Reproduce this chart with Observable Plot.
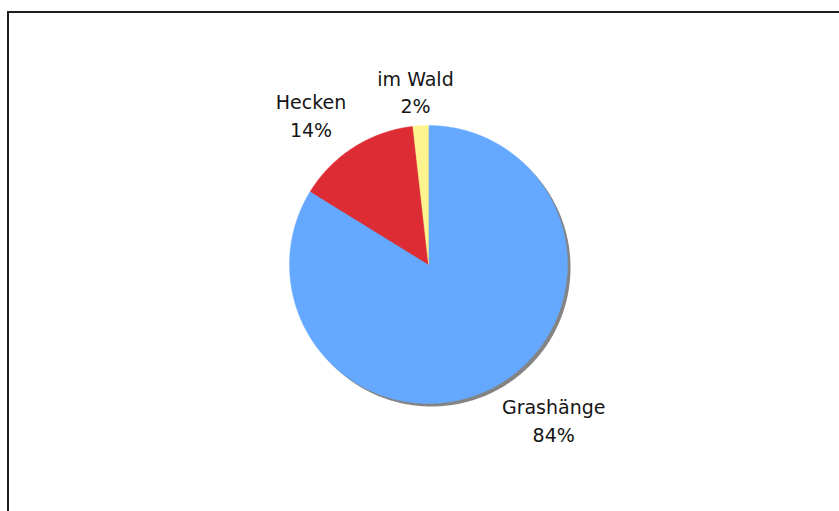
<!DOCTYPE html>
<html><head><meta charset="utf-8">
<script src="https://cdn.jsdelivr.net/npm/d3@7"></script>
<script src="https://cdn.jsdelivr.net/npm/@observablehq/plot@0.6"></script>
<style>
html,body{margin:0;padding:0;background:#fff;overflow:hidden;width:839px;height:511px}
#frame{position:absolute;left:7px;top:11px;width:900px;height:600px;border:2px solid #1e1e1e;box-sizing:border-box}
#chart{position:absolute;left:0;top:0}
</style></head><body>
<div id="frame"></div><div id="chart"></div>
<script>
// Data
const categories = ["Grashänge", "Hecken", "im Wald"];
const values = [83.8, 14.4, 1.8];
const colors = ["#64A9FF", "#DE2C34", "#FFF38E"];

// Layout
const W = 839, H = 511;
const mL = 289, mR = 272, mT = 125, mB = 108;
const rPx = (W - mL - mR) / 2;
const fontSize = 19, lineH = 1.45;
const fontFamily = "'DejaVu Sans', Verdana, sans-serif";

const slices = categories.map((name, i) => ({name, value: values[i], color: colors[i]}));
const total = d3.sum(values);
const arcs = d3.pie().sort(null).value(d => d.value)(slices);

function arcPoly(a0, a1, closeCenter = true) {
  const n = Math.max(2, Math.ceil((a1 - a0) / (Math.PI / 360)));
  const pts = closeCenter ? [{x: 0, y: 0}] : [];
  for (let k = 0; k <= n; k++) {
    const a = a0 + (a1 - a0) * k / n;
    pts.push({x: Math.sin(a), y: -Math.cos(a)});
  }
  if (closeCenter) pts.push({x: 0, y: 0});
  return pts;
}

const ctx = document.createElement("canvas").getContext("2d");
ctx.font = `${fontSize}px ${fontFamily}`;
const clamp = t => Math.max(-1, Math.min(1, t));
const labels = arcs.map(a => {
  const mid = (a.startAngle + a.endAngle) / 2;
  const dx = Math.sin(mid), dy = -Math.cos(mid);
  const pct = Math.round(a.data.value / total * 100) + "%";
  const text = a.data.name + "\n" + pct;
  const w = Math.max(ctx.measureText(a.data.name).width, ctx.measureText(pct).width);
  const h = fontSize * lineH + fontSize * 0.73;
  const pr = rPx * 1.104;
  const cx = pr * dx + w / 2 * clamp(2 * dx);
  const cy = pr * dy + h / 2 * clamp(2 * dy);
  return {x: cx / rPx, y: cy / rPx, text};
});

const marks = [
  Plot.line(arcPoly(0, 2 * Math.PI, false), {x: "x", y: "y", fill: "#848484", stroke: "none", dx: 3, dy: 3}),
  ...arcs.map(a => Plot.line(arcPoly(a.startAngle, a.endAngle), {
    x: "x", y: "y", fill: a.data.color, stroke: a.data.color, strokeWidth: 0.4
  })),
  Plot.text(labels, {x: "x", y: "y", text: "text", textAnchor: "middle", lineHeight: lineH,
    fontSize, fontFamily, fill: "#151515"})
];

const chart = Plot.plot({
  width: W, height: H,
  marginLeft: mL, marginRight: mR, marginTop: mT, marginBottom: mB,
  x: {domain: [-1, 1], axis: null},
  y: {domain: [-1, 1], reverse: true, axis: null},
  style: {background: "transparent", overflow: "visible"},
  marks
});
document.getElementById("chart").appendChild(chart);
</script>
</body></html>
